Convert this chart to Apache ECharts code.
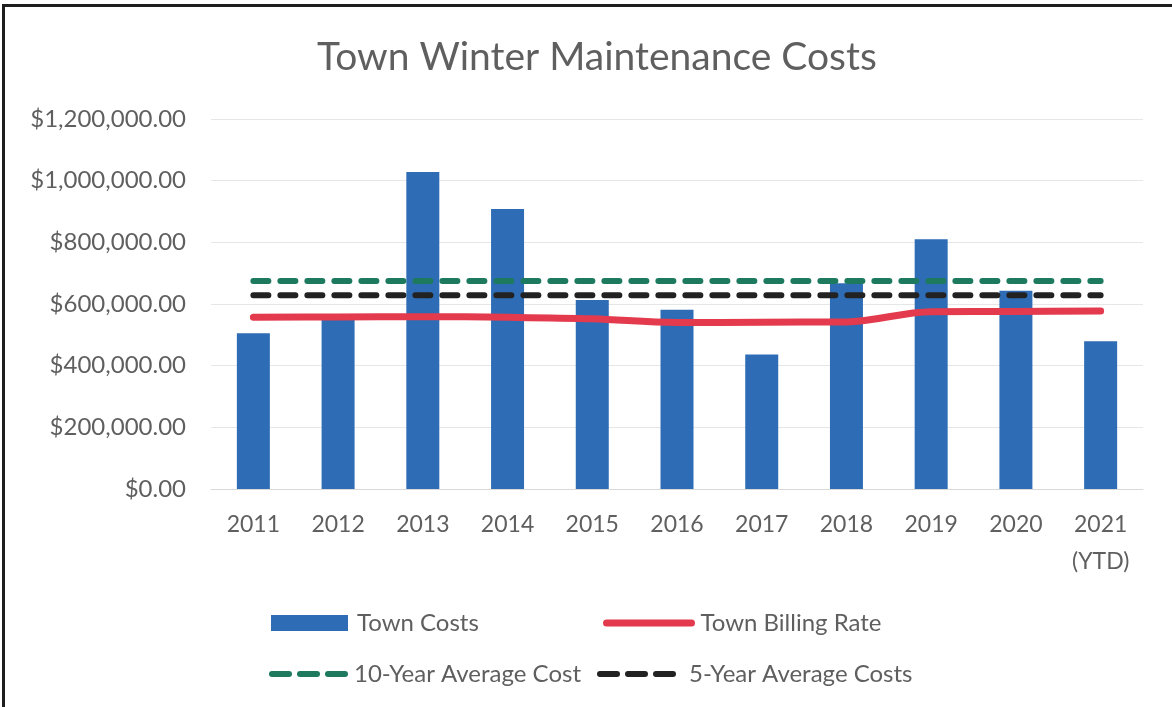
<!DOCTYPE html>
<html>
<head>
<meta charset="utf-8">
<script src="https://cdn.jsdelivr.net/npm/echarts@6/dist/echarts.min.js"></script>
<style>
  html, body { margin: 0; padding: 0; background: #fff; }
  #frame { position: absolute; left: 2px; top: 4px; width: 1200px; height: 720px; z-index: 5;
           pointer-events: none; border-left: 3px solid #1e1e1e; border-top: 3px solid #1e1e1e; }
  #chart { position: absolute; left: 0; top: 0; width: 1172px; height: 707px; }
</style>
</head>
<body>
<div id="chart"></div>
<div id="frame"></div>
<script>
var years = ['2011', '2012', '2013', '2014', '2015', '2016', '2017', '2018', '2019', '2020', '2021\n(YTD)'];
var townCosts = [505000, 560000, 1028000, 908000, 613000, 581000, 436000, 667000, 810000, 643000, 479000];
var billingRate = [557000, 558000, 559000, 557000, 552000, 540000, 541000, 542000, 575000, 576000, 577000];
var avg10 = [675000, 675000, 675000, 675000, 675000, 675000, 675000, 675000, 675000, 675000, 675000];
var avg5 = [628000, 628000, 628000, 628000, 628000, 628000, 628000, 628000, 628000, 628000, 628000];

var font = 'Lato';
var grey = '#5f5f5f';
var chart = echarts.init(document.getElementById('chart'));

function money(v) {
  return '$' + v.toLocaleString('en-US', { minimumFractionDigits: 2, maximumFractionDigits: 2 });
}

function legendAt(name, left, top, w, extra) {
  var l = {
    data: [name],
    left: left,
    top: top,
    padding: 0,
    itemWidth: w,
    itemHeight: 16,
    itemGap: 0,
    selectedMode: false,
    itemStyle: { opacity: 0, borderWidth: 0 },
    textStyle: { fontFamily: font, fontSize: 24, color: grey, padding: [0, 0, 0, 4] }
  };
  for (var k in extra) l[k] = extra[k];
  return l;
}

var option = {
  animation: false,
  backgroundColor: '#fff',
  title: {
    text: 'Town Winter Maintenance Costs',
    left: 312,
    top: 33,
    textStyle: { fontFamily: font, fontSize: 39, fontWeight: 'normal', color: grey }
  },
  legend: [
    legendAt('Town Costs', 271, 611, 77, { icon: 'rect', itemStyle: {} }),
    legendAt('Town Billing Rate', 603, 611, 85, { lineStyle: { width: 7, cap: 'round' } }),
    legendAt('10-Year Average Cost', 269, 662, 73, { lineStyle: { width: 6, type: [17, 11], cap: 'round' } }),
    legendAt('5-Year Average Costs', 597, 662, 80, { lineStyle: { width: 6, type: [17, 11], cap: 'round' } })
  ],
  grid: { left: 211, right: 29, top: 119, bottom: 218 },
  xAxis: {
    type: 'category',
    data: years,
    axisLine: { lineStyle: { color: '#d9d9d9' } },
    axisTick: { show: false },
    axisLabel: { fontFamily: font, fontSize: 23, color: grey, margin: 17, lineHeight: 37 }
  },
  yAxis: {
    type: 'value',
    min: 0,
    max: 1200000,
    interval: 200000,
    axisLine: { show: false },
    axisTick: { show: false },
    splitLine: { lineStyle: { color: '#e6e6e6', width: 1 } },
    axisLabel: { fontFamily: font, fontSize: 24, color: grey, margin: 25, formatter: money }
  },
  series: [
    {
      name: 'Town Costs',
      type: 'bar',
      data: townCosts,
      barWidth: 33,
      itemStyle: { color: '#2e6db5' }
    },
    {
      name: '10-Year Average Cost',
      type: 'line',
      data: avg10,
      symbol: 'none',
      lineStyle: { color: '#1d7a5f', width: 6, type: [15, 12], cap: 'round' },
      itemStyle: { color: '#1d7a5f' }
    },
    {
      name: '5-Year Average Costs',
      type: 'line',
      data: avg5,
      symbol: 'none',
      lineStyle: { color: '#222222', width: 6, type: [15, 12], cap: 'round' },
      itemStyle: { color: '#222222' }
    },
    {
      name: 'Town Billing Rate',
      type: 'line',
      data: billingRate,
      symbol: 'none',
      smooth: 0.35,
      lineStyle: { color: '#e33a4d', width: 7, cap: 'round' },
      itemStyle: { color: '#e33a4d' }
    }
  ]
};
chart.setOption(option);
window.onresize = function() { chart.resize(); };
</script>
</body>
</html>
